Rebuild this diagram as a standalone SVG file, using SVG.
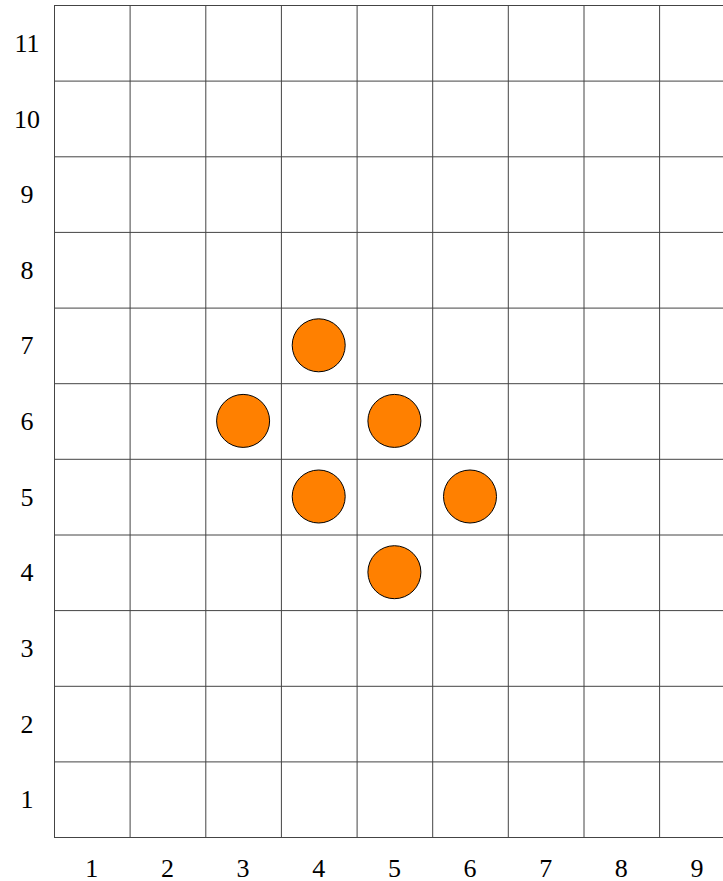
<svg xmlns="http://www.w3.org/2000/svg" width="723" height="881" viewBox="0 0 723 881">
<style>
.g{stroke:#444;stroke-width:1;fill:none}
.c{fill:#FF8000;stroke:#000;stroke-width:1}
text{font-family:"Liberation Serif",serif;font-size:26px;fill:#000;text-anchor:middle;dominant-baseline:central}
</style>
<rect width="723" height="881" fill="#fff"/>
<g id="grid" class="g">
<path d="M54.5 5V837M130.1 5V837M205.8 5V837M281.4 5V837M357.1 5V837M432.7 5V837M508.3 5V837M584 5V837M659.6 5V837"/>
<path d="M54 5.5H723M54 81.1H723M54 156.8H723M54 232.4H723M54 308.1H723M54 383.7H723M54 459.3H723M54 535H723M54 610.6H723M54 686.3H723M54 761.9H723M54 837.5H723"/>
</g>
<g id="rowlabels">
<text x="27" y="43">11</text>
<text x="27" y="119">10</text>
<text x="27" y="194">9</text>
<text x="27" y="270">8</text>
<text x="27" y="345">7</text>
<text x="27" y="421">6</text>
<text x="27" y="497">5</text>
<text x="27" y="572">4</text>
<text x="27" y="648">3</text>
<text x="27" y="724">2</text>
<text x="27" y="799">1</text>
</g>
<g id="collabels">
<text x="91.8" y="868">1</text>
<text x="167.5" y="868">2</text>
<text x="243.1" y="868">3</text>
<text x="318.7" y="868">4</text>
<text x="394.4" y="868">5</text>
<text x="470" y="868">6</text>
<text x="545.7" y="868">7</text>
<text x="621.3" y="868">8</text>
<text x="696.9" y="868">9</text>
</g>
<g id="c3-6"><circle class="c" cx="243.1" cy="420.9" r="26.5"/></g>
<g id="c4-7"><circle class="c" cx="318.7" cy="345.3" r="26.5"/></g>
<g id="c5-6"><circle class="c" cx="394.4" cy="420.9" r="26.5"/></g>
<g id="c4-5"><circle class="c" cx="318.7" cy="496.5" r="26.5"/></g>
<g id="c6-5"><circle class="c" cx="470" cy="496.5" r="26.5"/></g>
<g id="c5-4"><circle class="c" cx="394.4" cy="572.2" r="26.5"/></g>
</svg>
